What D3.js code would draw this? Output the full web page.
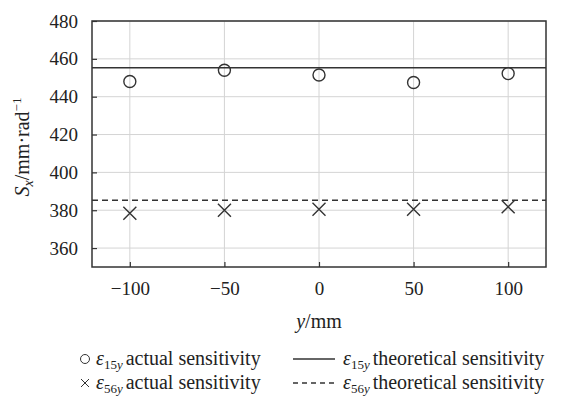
<!DOCTYPE html>
<html>
<head>
<meta charset="utf-8">
<script src="https://cdn.jsdelivr.net/npm/d3@7"></script>
<style>
  body { margin: 0; background: #fff; }
  svg text { font-family: "Liberation Serif", "Times New Roman", Times, Tinos, "Noto Serif", "DejaVu Serif", serif; fill: #222; }
</style>
</head>
<body>
<svg id="chart"></svg>
<script>
// Data.
const positions = [-100, -50, 0, 50, 100];
const actual15y = [448, 454, 451.5, 447.5, 452.2];
const actual56y = [378.4, 380, 380.5, 380.5, 381.8];
const theory15y = 455.3;
const theory56y = 385.3;
const xTicks = [-100, -50, 0, 50, 100];
const yTicks = [360, 380, 400, 420, 440, 460, 480];

const width = 562;
const height = 397;
const margin = {top: 21, right: 16, bottom: 130, left: 92};
const innerW = width - margin.left - margin.right;
const innerH = height - margin.top - margin.bottom;
const ink = '#333';

const svg = d3.select('#chart').attr('width', width).attr('height', height);
const g = svg.append('g').attr('transform', `translate(${margin.left},${margin.top})`);

const x = d3.scaleLinear().domain([-120, 120]).range([0, innerW]);
const y = d3.scaleLinear().domain([350, 480]).range([innerH, 0]);

// Grid.
g.append('g').selectAll('line').data(xTicks).join('line')
    .attr('x1', d => x(d)).attr('x2', d => x(d))
    .attr('y1', 0).attr('y2', innerH)
    .attr('stroke', '#d4d4d4').attr('stroke-width', 1);
g.append('g').selectAll('line').data(yTicks).join('line')
    .attr('x1', 0).attr('x2', innerW)
    .attr('y1', d => y(d)).attr('y2', d => y(d))
    .attr('stroke', '#d4d4d4').attr('stroke-width', 1);

// Axes with inward ticks.
const xAxis = g.append('g').attr('transform', `translate(0,${innerH})`)
    .call(d3.axisBottom(x).tickValues(xTicks).tickSizeInner(-5).tickSizeOuter(0)
        .tickPadding(15).tickFormat(d => d < 0 ? '\u2212' + Math.abs(d) : d));
const yAxis = g.append('g')
    .call(d3.axisLeft(y).tickValues(yTicks).tickSizeInner(-5).tickSizeOuter(0)
        .tickPadding(14));
[xAxis, yAxis].forEach(a => {
  a.attr('font-family', null).attr('font-size', 19);
  a.select('.domain').remove();
  a.selectAll('line').attr('stroke', ink).attr('stroke-width', 1.2);
  a.selectAll('text').attr('fill', '#222');
});

// Frame.
g.append('rect').attr('width', innerW).attr('height', innerH)
    .attr('fill', 'none').attr('stroke', ink).attr('stroke-width', 1.5);

// Theoretical lines.
g.append('line').attr('x1', 0).attr('x2', innerW)
    .attr('y1', y(theory15y)).attr('y2', y(theory15y))
    .attr('stroke', ink).attr('stroke-width', 1.4);
g.append('line').attr('x1', 0).attr('x2', innerW)
    .attr('y1', y(theory56y)).attr('y2', y(theory56y))
    .attr('stroke', ink).attr('stroke-width', 1.4).attr('stroke-dasharray', '6,4');

// Actual sensitivity markers.
g.append('g').selectAll('circle').data(positions).join('circle')
    .attr('cx', d => x(d)).attr('cy', (d, i) => y(actual15y[i])).attr('r', 6)
    .attr('fill', 'none').attr('stroke', ink).attr('stroke-width', 1.4);
g.append('g').selectAll('path').data(positions).join('path')
    .attr('d', 'M-6.5,-6.5L6.5,6.5M-6.5,6.5L6.5,-6.5')
    .attr('transform', (d, i) => `translate(${x(d)},${y(actual56y[i])})`)
    .attr('fill', 'none').attr('stroke', ink).attr('stroke-width', 1.4);

// Axis titles.
const xt = svg.append('text').attr('x', margin.left + innerW / 2).attr('y', 328)
    .attr('text-anchor', 'middle').attr('font-size', 20);
xt.append('tspan').attr('font-style', 'italic').text('y');
xt.append('tspan').text('/mm');

const yt = svg.append('text')
    .attr('transform', `translate(29,${margin.top + innerH / 2 + 3}) rotate(-90)`)
    .attr('text-anchor', 'middle').attr('font-size', 20);
yt.append('tspan').attr('font-style', 'italic').text('S');
yt.append('tspan').attr('font-style', 'italic').attr('font-size', 14).attr('dy', 4).text('x');
yt.append('tspan').attr('dy', -4).text('/mm\u00b7rad');
yt.append('tspan').attr('font-size', 13).attr('dy', -8).text('\u22121');

// Legend.
function epsLabel(t, sub, rest) {
  t.append('tspan').attr('font-style', 'italic').text('\u03b5');
  t.append('tspan').attr('font-size', 13).attr('dy', 4).text(sub);
  t.append('tspan').attr('font-size', 13).attr('font-style', 'italic').text('y');
  t.append('tspan').attr('dy', -4).attr('dx', 3).text(rest);
}
const legend = svg.append('g');
const rows = [365, 389];
legend.append('circle').attr('cx', 85).attr('cy', rows[0] - 6).attr('r', 4.5)
    .attr('fill', 'none').attr('stroke', ink).attr('stroke-width', 1);
legend.append('path').attr('d', 'M-4,-4L4,4M-4,4L4,-4')
    .attr('transform', `translate(85,${rows[1] - 6})`)
    .attr('fill', 'none').attr('stroke', ink).attr('stroke-width', 1);
epsLabel(legend.append('text').attr('x', 96).attr('y', rows[0]).attr('font-size', 20), '15', 'actual sensitivity');
epsLabel(legend.append('text').attr('x', 96).attr('y', rows[1]).attr('font-size', 20), '56', 'actual sensitivity');
legend.append('line').attr('x1', 293).attr('x2', 335).attr('y1', rows[0] - 6).attr('y2', rows[0] - 6)
    .attr('stroke', ink).attr('stroke-width', 1.3);
legend.append('line').attr('x1', 293).attr('x2', 335).attr('y1', rows[1] - 6).attr('y2', rows[1] - 6)
    .attr('stroke', ink).attr('stroke-width', 1.3).attr('stroke-dasharray', '5,4');
epsLabel(legend.append('text').attr('x', 343).attr('y', rows[0]).attr('font-size', 20), '15', 'theoretical sensitivity');
epsLabel(legend.append('text').attr('x', 343).attr('y', rows[1]).attr('font-size', 20), '56', 'theoretical sensitivity');
</script>
</body>
</html>
